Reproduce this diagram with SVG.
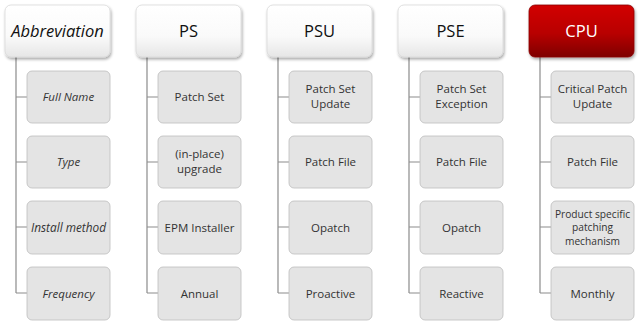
<svg xmlns="http://www.w3.org/2000/svg" width="640" height="324" viewBox="0 0 640 324">
<style>
.hd{fill:url(#hg);stroke:#d9d9d9;stroke-width:0.8}
.hdr{fill:url(#rg);stroke:#8a0000;stroke-width:0.8}
.ch{fill:#e4e4e4;stroke:#bdbdbd;stroke-width:0.8}
.ht{font-family:"Open Sans","Liberation Sans",sans-serif;font-size:16.5px;fill:#111;text-anchor:middle}
.hti{font-style:italic}
.ct{font-family:"Open Sans","Liberation Sans",sans-serif;font-size:11.5px;fill:#333;text-anchor:middle}
.cti{font-style:italic}
.ln{stroke:#8c8c8c;stroke-width:1.2;fill:none}
</style>
<defs>
<linearGradient id="hg" x1="0" y1="0" x2="0" y2="1"><stop offset="0" stop-color="#ffffff"/><stop offset="0.6" stop-color="#fafafa"/><stop offset="1" stop-color="#e6e6e6"/></linearGradient>
<linearGradient id="rg" x1="0" y1="0" x2="0" y2="1"><stop offset="0" stop-color="#d20000"/><stop offset="0.55" stop-color="#b80000"/><stop offset="1" stop-color="#7e0000"/></linearGradient>
<filter id="sh" x="-10%" y="-10%" width="130%" height="140%"><feGaussianBlur in="SourceAlpha" stdDeviation="1.5"/><feOffset dx="0.5" dy="1.5"/><feComponentTransfer><feFuncA type="linear" slope="0.35"/></feComponentTransfer><feMerge><feMergeNode/><feMergeNode in="SourceGraphic"/></feMerge></filter>
</defs>
<g id="connectors">
<path class="ln" d="M16 57V293M16 97H27M16 162H27M16 227H27M16 293H27"/>
<path class="ln" d="M147 57V293M147 97H158M147 162H158M147 227H158M147 293H158"/>
<path class="ln" d="M278 57V293M278 97H289M278 162H289M278 227H289M278 293H289"/>
<path class="ln" d="M409 57V293M409 97H420M409 162H420M409 227H420M409 293H420"/>
<path class="ln" d="M540 57V293M540 97H551M540 162H551M540 227H551M540 293H551"/>
</g>
<g id="abbreviation"><rect class="hd" x="5" y="5" width="105" height="52" rx="6" filter="url(#sh)"/><text class="ht hti" x="57.5" y="37">Abbreviation</text></g>
<g id="abbr-fullname"><rect class="ch" x="27" y="71" width="83" height="52" rx="5"/><text class="ct cti" x="68.5" y="101">Full Name</text></g>
<g id="abbr-type"><rect class="ch" x="27" y="136" width="83" height="52" rx="5"/><text class="ct cti" x="68.5" y="166">Type</text></g>
<g id="abbr-install"><rect class="ch" x="27" y="201" width="83" height="53" rx="5"/><text class="ct cti" x="68.5" y="231.5" style="font-size:11.8px">Install method</text></g>
<g id="abbr-frequency"><rect class="ch" x="27" y="267" width="83" height="53" rx="5"/><text class="ct cti" x="68.5" y="297.5">Frequency</text></g>

<g id="ps"><rect class="hd" x="136" y="5" width="105" height="52" rx="6" filter="url(#sh)"/><text class="ht" x="188.5" y="37">PS</text></g>
<g id="ps-fullname"><rect class="ch" x="158" y="71" width="83" height="52" rx="5"/><text class="ct" x="199.5" y="101">Patch Set</text></g>
<g id="ps-type"><rect class="ch" x="158" y="136" width="83" height="52" rx="5"/><text class="ct" x="199.5" y="158">(in-place)</text><text class="ct" x="199.5" y="173">upgrade</text></g>
<g id="ps-install"><rect class="ch" x="158" y="201" width="83" height="53" rx="5"/><text class="ct" x="199.5" y="231.5">EPM Installer</text></g>
<g id="ps-frequency"><rect class="ch" x="158" y="267" width="83" height="53" rx="5"/><text class="ct" x="199.5" y="297.5">Annual</text></g>

<g id="psu"><rect class="hd" x="267" y="5" width="105" height="52" rx="6" filter="url(#sh)"/><text class="ht" x="319.5" y="37">PSU</text></g>
<g id="psu-fullname"><rect class="ch" x="289" y="71" width="83" height="52" rx="5"/><text class="ct" x="330.5" y="93">Patch Set</text><text class="ct" x="330.5" y="108">Update</text></g>
<g id="psu-type"><rect class="ch" x="289" y="136" width="83" height="52" rx="5"/><text class="ct" x="330.5" y="166">Patch File</text></g>
<g id="psu-install"><rect class="ch" x="289" y="201" width="83" height="53" rx="5"/><text class="ct" x="330.5" y="231.5">Opatch</text></g>
<g id="psu-frequency"><rect class="ch" x="289" y="267" width="83" height="53" rx="5"/><text class="ct" x="330.5" y="297.5">Proactive</text></g>

<g id="pse"><rect class="hd" x="398" y="5" width="105" height="52" rx="6" filter="url(#sh)"/><text class="ht" x="450.5" y="37">PSE</text></g>
<g id="pse-fullname"><rect class="ch" x="420" y="71" width="83" height="52" rx="5"/><text class="ct" x="461.5" y="93">Patch Set</text><text class="ct" x="461.5" y="108">Exception</text></g>
<g id="pse-type"><rect class="ch" x="420" y="136" width="83" height="52" rx="5"/><text class="ct" x="461.5" y="166">Patch File</text></g>
<g id="pse-install"><rect class="ch" x="420" y="201" width="83" height="53" rx="5"/><text class="ct" x="461.5" y="231.5">Opatch</text></g>
<g id="pse-frequency"><rect class="ch" x="420" y="267" width="83" height="53" rx="5"/><text class="ct" x="461.5" y="297.5">Reactive</text></g>

<g id="cpu"><rect class="hdr" x="529" y="5" width="105" height="52" rx="6" filter="url(#sh)"/><text class="ht" x="581.5" y="37" style="fill:#fff">CPU</text></g>
<g id="cpu-fullname"><rect class="ch" x="551" y="71" width="83" height="52" rx="5"/><text class="ct" x="592.5" y="93">Critical Patch</text><text class="ct" x="592.5" y="108">Update</text></g>
<g id="cpu-type"><rect class="ch" x="551" y="136" width="83" height="52" rx="5"/><text class="ct" x="592.5" y="166">Patch File</text></g>
<g id="cpu-install"><rect class="ch" x="551" y="201" width="83" height="53" rx="5"/><text class="ct" x="592.5" y="217.5" style="font-size:10.2px">Product specific</text><text class="ct" x="592.5" y="231" style="font-size:10.2px">patching</text><text class="ct" x="592.5" y="244.5" style="font-size:10.2px">mechanism</text></g>
<g id="cpu-frequency"><rect class="ch" x="551" y="267" width="83" height="53" rx="5"/><text class="ct" x="592.5" y="297.5">Monthly</text></g>
</svg>
